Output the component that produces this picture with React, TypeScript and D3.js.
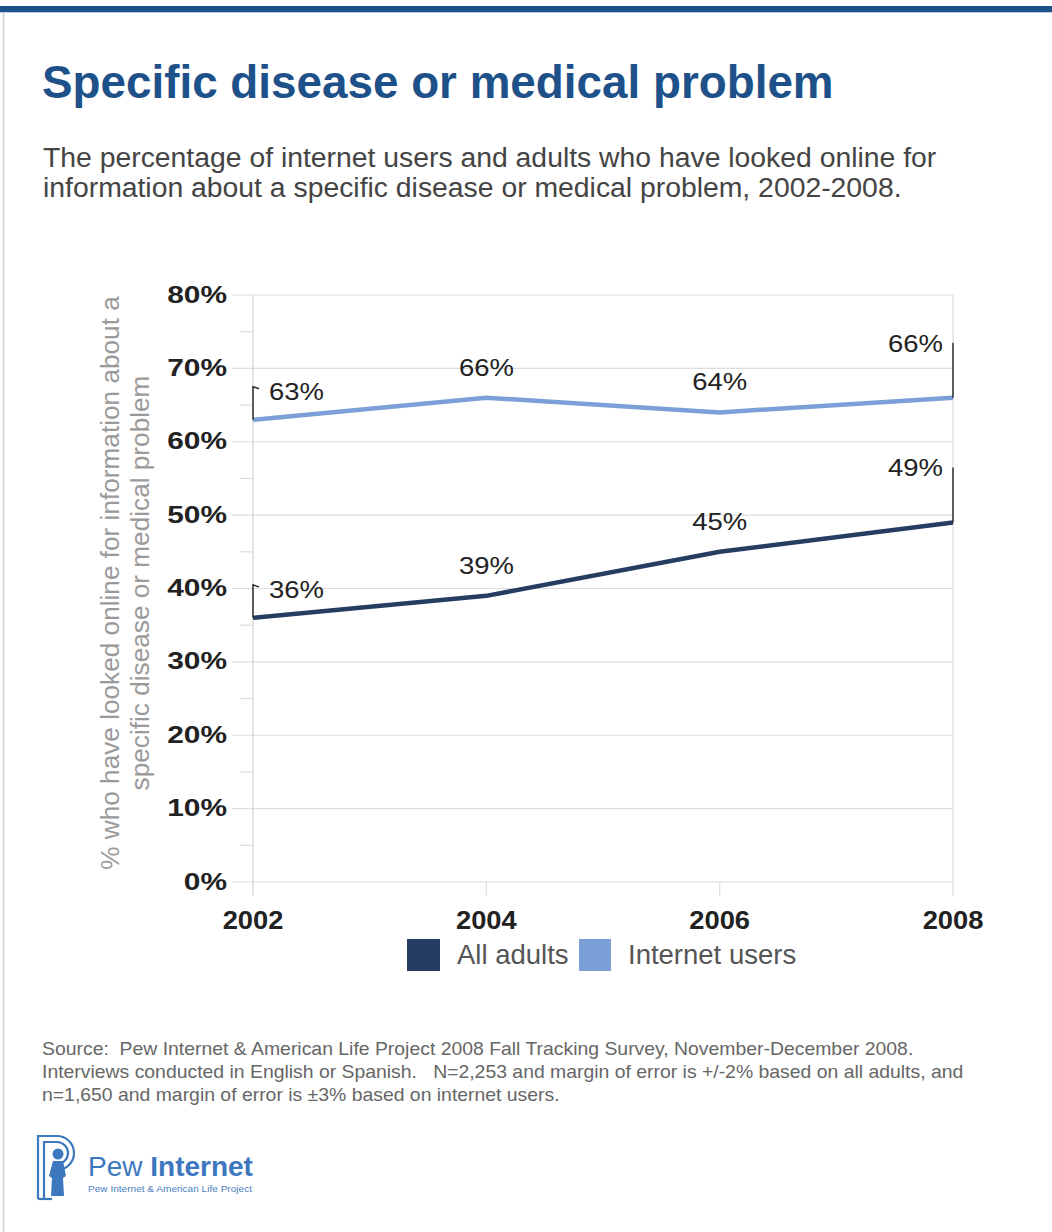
import React from "react";
import * as d3 from "d3";

const years = [2002, 2004, 2006, 2008];
const allAdults = [36, 39, 45, 49];
const internetUsers = [63, 66, 64, 66];
const yTickValues = [0, 10, 20, 30, 40, 50, 60, 70, 80];
const yMinorValues = [5, 15, 25, 35, 45, 55, 65, 75];
const legendLabels = ["All adults", "Internet users"];
const titleText = "Specific disease or medical problem";
const subtitleLines = [
  "The percentage of internet users and adults who have looked online for",
  "information about a specific disease or medical problem, 2002-2008.",
];
const yAxisTitleLines = [
  "% who have looked online for information about a",
  "specific disease or medical problem",
];
const sourceLines = [
  "Source:  Pew Internet & American Life Project 2008 Fall Tracking Survey, November-December 2008.",
  "Interviews conducted in English or Spanish.   N=2,253 and margin of error is +/-2% based on all adults, and",
  "n=1,650 and margin of error is \u00b13% based on internet users.",
];

const FONT = "'Liberation Sans', Arial, Helvetica, sans-serif";
const DARK = "#253d61";
const LIGHT = "#7b9fd6";
const GRID = "#dddddd";

export default function App() {
  const x = d3.scaleLinear().domain([2002, 2008]).range([253, 953]);
  const y = d3.scaleLinear().domain([0, 80]).range([882, 295]);
  const line = d3
    .line<[number, number]>()
    .x((d) => x(d[0]))
    .y((d) => y(d[1]));

  const series = [
    { name: legendLabels[0], values: allAdults, color: DARK },
    { name: legendLabels[1], values: internetUsers, color: LIGHT },
  ];

  const labelSX = 1.12;

  const renderLabels = (values: number[], key: string) =>
    values.map((v, i) => {
      const px = x(years[i]);
      const py = y(v);
      const txt = `${v}%`;
      if (i === 0) {
        return (
          <g key={key + i}>
            <path
              d={`M${px},${py} V${py - 33} L${px + 6},${py - 31}`}
              fill="none"
              stroke="#222"
              strokeWidth={1.4}
            />
            <text
              transform={`translate(${px + 16},${py - 20}) scale(${labelSX},1)`}
              fontSize={24.5}
              fill="#222"
            >
              {txt}
            </text>
          </g>
        );
      }
      if (i === values.length - 1) {
        return (
          <g key={key + i}>
            <path d={`M${px},${py} V${py - 55}`} fill="none" stroke="#222" strokeWidth={1.4} />
            <text
              transform={`translate(${px - 10},${py - 46}) scale(${labelSX},1)`}
              fontSize={24.5}
              fill="#222"
              textAnchor="end"
            >
              {txt}
            </text>
          </g>
        );
      }
      return (
        <text
          key={key + i}
          transform={`translate(${px},${py - 22}) scale(${labelSX},1)`}
          fontSize={24.5}
          fill="#222"
          textAnchor="middle"
        >
          {txt}
        </text>
      );
    });

  return (
    <div style={{ position: "absolute", left: 0, top: 0, width: 1052, height: 1232, background: "#fff" }}>
      <svg width={1052} height={1232} style={{ display: "block", fontFamily: FONT }}>
        <rect x={0} y={0} width={1052} height={1232} fill="#fff" />
        {/* frame */}
        <rect x={0} y={6} width={1052} height={6} fill="#1c5189" />
        <line x1={0} x2={1052} y1={12.5} y2={12.5} stroke="#b9cbe0" strokeWidth={1} />
        <line x1={3.5} x2={3.5} y1={12} y2={1232} stroke="#cfcfcf" strokeWidth={1.5} />

        {/* title */}
        <text x={42} y={98} fontSize={45.8} fontWeight="bold" fill="#1e5189">
          {titleText}
        </text>
        {subtitleLines.map((s, i) => (
          <text key={s} transform={`translate(43,${167 + i * 30}) scale(1.05,1)`} fontSize={27} fill="#444">
            {s}
          </text>
        ))}

        {/* grid */}
        {yTickValues.map((t) => (
          <line key={"g" + t} x1={232} x2={953} y1={y(t)} y2={y(t)} stroke={GRID} strokeWidth={1.2} />
        ))}
        {yMinorValues.map((t) => (
          <line key={"m" + t} x1={240} x2={253} y1={y(t)} y2={y(t)} stroke={GRID} strokeWidth={1.2} />
        ))}
        <line x1={x(2002)} x2={x(2002)} y1={y(80)} y2={y(0) + 14} stroke="#d4d4d4" strokeWidth={1.2} />
        <line x1={x(2008)} x2={x(2008)} y1={y(80)} y2={y(0) + 14} stroke={GRID} strokeWidth={1.2} />
        {years.slice(1, -1).map((yr) => (
          <line key={"xt" + yr} x1={x(yr)} x2={x(yr)} y1={y(0)} y2={y(0) + 14} stroke={GRID} strokeWidth={1.2} />
        ))}

        {/* y tick labels */}
        {yTickValues.map((t) => (
          <text
            key={"yl" + t}
            transform={`translate(227,${y(t) + 7.5}) scale(1.22,1)`}
            fontSize={24.5}
            fontWeight="bold"
            fill="#222"
            textAnchor="end"
          >
            {`${t}%`}
          </text>
        ))}

        {/* x tick labels */}
        {years.map((yr) => (
          <text
            key={"xl" + yr}
            transform={`translate(${x(yr)},929) scale(1.05,1)`}
            fontSize={26}
            fontWeight="bold"
            fill="#222"
            textAnchor="middle"
          >
            {yr}
          </text>
        ))}

        {/* y axis title */}
        {yAxisTitleLines.map((s, i) => (
          <text
            key={s}
            transform={`translate(${119 + i * 30},583) rotate(-90)`}
            fontSize={26.2}
            fill="#9a9a9a"
            textAnchor="middle"
          >
            {s}
          </text>
        ))}

        {/* lines */}
        {series.map((s) => (
          <path
            key={s.name}
            d={line(years.map((yr, i) => [yr, s.values[i]]) as [number, number][]) || ""}
            fill="none"
            stroke={s.color}
            strokeWidth={4.5}
            strokeLinejoin="round"
          />
        ))}

        {/* data labels */}
        {renderLabels(internetUsers, "iu")}
        {renderLabels(allAdults, "aa")}

        {/* legend */}
        <rect x={407} y={939} width={33} height={32} fill={DARK} />
        <text x={457} y={964} fontSize={27.5} fill="#555">
          {legendLabels[0]}
        </text>
        <rect x={579} y={939} width={32} height={32} fill={LIGHT} />
        <text x={628} y={964} fontSize={27.5} fill="#555">
          {legendLabels[1]}
        </text>

        {/* source */}
        {sourceLines.map((s, i) => (
          <text
            key={s}
            transform={`translate(42,${1055 + i * 23}) scale(1.06,1)`}
            fontSize={18.3}
            fill="#666"
            style={{ whiteSpace: "pre" }}
          >
            {s}
          </text>
        ))}

        {/* logo */}
        <g stroke="#3d78bf" fill="none" strokeWidth={2.2}>
          <path d="M38,1199 V1136 H57 A17,17 0 0 1 57,1170 H52" />
          <path d="M44,1199 V1142 H57 A11,11 0 0 1 57,1164" />
          <line x1={38} x2={52} y1={1199} y2={1199} />
        </g>
        <circle cx={58} cy={1154} r={5.5} fill="#3d78bf" />
        <path d="M53,1161 H63 L66,1176 L63,1178 L64,1196 H51 L52,1178 L49,1176 Z" fill="#3d78bf" />
        <text x={88} y={1176} fontSize={28} fill="#3d78bf">
          Pew <tspan fontWeight="bold">Internet</tspan>
        </text>
        <text x={88} y={1192} fontSize={8.5} fill="#4a80c2" textLength={164} lengthAdjust="spacingAndGlyphs">
          Pew Internet &amp; American Life Project
        </text>
      </svg>
    </div>
  );
}
